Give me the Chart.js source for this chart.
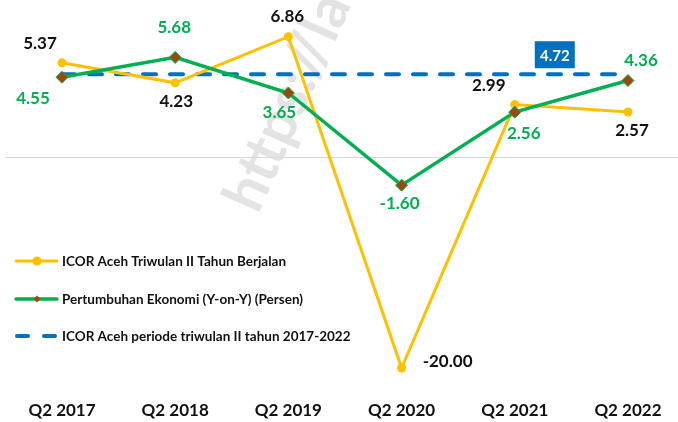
<!DOCTYPE html>
<html>
<head>
<meta charset="utf-8">
<script src="https://cdn.jsdelivr.net/npm/chart.js@4/dist/chart.umd.min.js"></script>
<style>
  html, body { margin: 0; padding: 0; background: #fff; }
  canvas { display: block; }
</style>
</head>
<body>
<canvas id="chart" width="678" height="422"></canvas>
<script>
// Data
const categories = ["Q2 2017", "Q2 2018", "Q2 2019", "Q2 2020", "Q2 2021", "Q2 2022"]
const icor = [5.37, 4.23, 6.86, -20.00, 2.99, 2.57]
const growth = [4.55, 5.68, 3.65, -1.60, 2.56, 4.36]
const icorAvg = 4.72
const seriesNames = [
  "ICOR Aceh Triwulan II Tahun Berjalan",
  "Pertumbuhan Ekonomi (Y-on-Y) (Persen)",
  "ICOR Aceh periode triwulan II tahun 2017-2022",
]

// axis bounds (the -20 point sits on the bottom edge like in Excel)
const Y_MIN = -12.02
const Y_MAX = 8.95

const YELLOW = "#FFC000"
const GREEN = "#00B050"
const BLUE = "#0070C0"
const BROWN = "#9A4A0C"
const FONT = "Lato, 'Open Sans', sans-serif"

// label offsets (dx, dy) from each point
const icorLabelPos = [[-22, -19], [1, 19], [-1, -20], [46, -6], [-26, -19], [4, 19]]
const growthLabelPos = [[-29, 21], [-1, -30], [-9, 20], [-2, 18], [9, 21], [13, -20]]

const pts = (arr) => arr.map((v, i) => ({ x: i, y: Math.max(v, Y_MIN) }))

// watermark + zero line under the lines
const backgroundPlugin = {
  id: "background",
  beforeDatasetsDraw(chart) {
    const { ctx, chartArea, scales } = chart
    ctx.save()
    ctx.translate(258, 215)
    ctx.rotate(-66 * Math.PI / 180)
    ctx.font = "bold 58px " + FONT
    ctx.fillStyle = "#e3e3e3"
    ctx.fillText("https://lac", 0, 0)
    ctx.restore()

    const y0 = Math.round(scales.y.getPixelForValue(0)) + 0.5
    ctx.save()
    ctx.strokeStyle = "#d9d9d9"
    ctx.lineWidth = 1
    ctx.beginPath()
    ctx.moveTo(chartArea.left, y0)
    ctx.lineTo(chartArea.right, y0)
    ctx.stroke()
    ctx.restore()
  },
}

// value labels + legend drawn on top
const labelPlugin = {
  id: "labels",
  afterDatasetsDraw(chart) {
    const { ctx } = chart
    ctx.save()
    ctx.textAlign = "center"
    ctx.textBaseline = "middle"
    ctx.font = "bold 17px " + FONT

    const m0 = chart.getDatasetMeta(0).data
    icor.forEach((v, i) => {
      ctx.fillStyle = "#111"
      ctx.fillText(v.toFixed(2), m0[i].x + icorLabelPos[i][0], m0[i].y + icorLabelPos[i][1])
    })
    const m1 = chart.getDatasetMeta(1).data
    growth.forEach((v, i) => {
      ctx.fillStyle = GREEN
      ctx.fillText(v.toFixed(2), m1[i].x + growthLabelPos[i][0], m1[i].y + growthLabelPos[i][1])
    })

    // avg label in a blue box above Q2 2021
    const m2 = chart.getDatasetMeta(2).data
    const bx = m2[4].x + 40
    const by = m2[4].y - 19.5
    ctx.fillStyle = BLUE
    ctx.fillRect(bx - 20, by - 13.5, 40, 27)
    ctx.fillStyle = "#fff"
    ctx.font = "bold 15px " + FONT
    ctx.fillText(icorAvg.toFixed(2), bx, by + 1)

    // legend
    const rows = [261, 299, 336]
    ctx.textAlign = "left"
    ctx.font = "bold 13.5px " + FONT
    ctx.lineCap = "round"
    rows.forEach((ry, k) => {
      if (k === 0) {
        ctx.strokeStyle = YELLOW
        ctx.lineWidth = 3
        ctx.beginPath(); ctx.moveTo(16, ry); ctx.lineTo(57, ry); ctx.stroke()
        ctx.fillStyle = YELLOW
        ctx.beginPath(); ctx.arc(37, ry, 4.5, 0, Math.PI * 2); ctx.fill()
      } else if (k === 1) {
        ctx.strokeStyle = GREEN
        ctx.lineWidth = 3.5
        ctx.beginPath(); ctx.moveTo(16, ry); ctx.lineTo(57, ry); ctx.stroke()
        ctx.fillStyle = BROWN
        ctx.beginPath()
        ctx.moveTo(37, ry - 3.5); ctx.lineTo(40.5, ry); ctx.lineTo(37, ry + 3.5); ctx.lineTo(33.5, ry)
        ctx.closePath(); ctx.fill()
      } else {
        ctx.strokeStyle = BLUE
        ctx.lineWidth = 4
        ctx.beginPath(); ctx.moveTo(17, ry); ctx.lineTo(28, ry); ctx.stroke()
        ctx.beginPath(); ctx.moveTo(44, ry); ctx.lineTo(55, ry); ctx.stroke()
      }
      ctx.fillStyle = "#111"
      ctx.fillText(seriesNames[k], 62, ry + 1)
    })
    ctx.restore()
  },
}

new Chart(document.getElementById("chart"), {
  type: "line",
  data: {
    datasets: [
      {
        label: seriesNames[0],
        data: pts(icor),
        borderColor: YELLOW,
        backgroundColor: YELLOW,
        borderWidth: 3,
        pointRadius: 4.5,
        pointBorderWidth: 0,
        clip: false,
        order: 2,
      },
      {
        label: seriesNames[1],
        data: pts(growth),
        borderColor: GREEN,
        backgroundColor: BROWN,
        borderWidth: 3.5,
        pointStyle: "rectRot",
        pointRadius: 6,
        pointBorderColor: GREEN,
        pointBorderWidth: 1,
        clip: false,
        order: 1,
      },
      {
        label: seriesNames[2],
        data: pts(categories.map(() => icorAvg)),
        borderColor: BLUE,
        borderWidth: 4,
        borderDash: [13, 14],
        borderCapStyle: "round",
        pointRadius: 0,
        clip: false,
        order: 3,
      },
    ],
  },
  options: {
    responsive: false,
    animation: false,
    layout: { autoPadding: false, padding: { left: 5, right: 0, top: 0, bottom: 0 } },
    plugins: {
      legend: { display: false },
      tooltip: { enabled: false },
    },
    scales: {
      x: {
        type: "linear",
        min: -0.5035,
        max: 5.442,
        afterBuildTicks: (s) => { s.ticks = categories.map((c, i) => ({ value: i })) },
        grid: { display: false, drawTicks: true, tickLength: 31.6 },
        border: { display: false },
        ticks: {
          padding: 1,
          color: "#111",
          font: { family: FONT, size: 17, weight: "bold" },
          callback: (v) => categories[v],
          maxRotation: 0,
        },
      },
      y: {
        display: false,
        min: Y_MIN,
        max: Y_MAX,
      },
    },
  },
  plugins: [backgroundPlugin, labelPlugin],
})
</script>
</body>
</html>
